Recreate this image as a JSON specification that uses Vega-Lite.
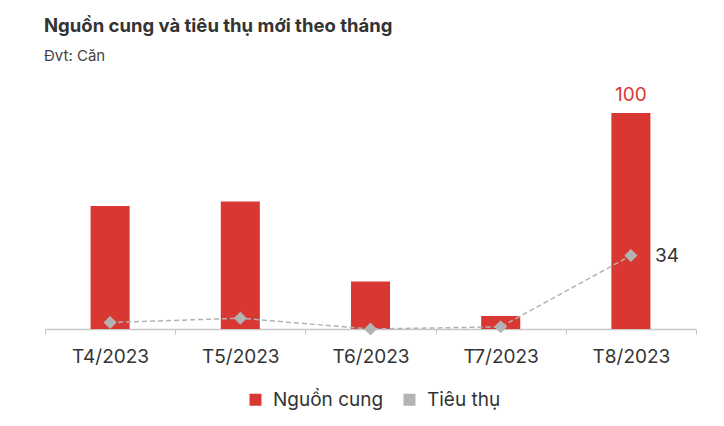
{
  "$schema": "https://vega.github.io/schema/vega-lite/v6.json",
  "autosize": {"type": "none"},
  "width": 651,
  "height": 216,
  "padding": {"left": 45, "top": 113, "right": 28, "bottom": 97},
  "background": "white",
  "config": {
    "view": {"stroke": null},
    "font": "Inter"
  },
  "title": {
    "text": "Nguồn cung và tiêu thụ mới theo tháng",
    "subtitle": "Đvt: Căn",
    "anchor": "start",
    "frame": "group",
    "dx": -1,
    "offset": 22,
    "fontSize": 18.5,
    "fontWeight": "bold",
    "color": "#333333",
    "subtitleFontSize": 15,
    "subtitleColor": "#444444",
    "subtitlePadding": 14
  },
  "data": {
    "values": [
      {"month": "T4/2023", "series": "Nguồn cung", "value": 57},
      {"month": "T5/2023", "series": "Nguồn cung", "value": 59},
      {"month": "T6/2023", "series": "Nguồn cung", "value": 22},
      {"month": "T7/2023", "series": "Nguồn cung", "value": 6},
      {"month": "T8/2023", "series": "Nguồn cung", "value": 100},
      {"month": "T4/2023", "series": "Tiêu thụ", "value": 3},
      {"month": "T5/2023", "series": "Tiêu thụ", "value": 5},
      {"month": "T6/2023", "series": "Tiêu thụ", "value": 0},
      {"month": "T7/2023", "series": "Tiêu thụ", "value": 1},
      {"month": "T8/2023", "series": "Tiêu thụ", "value": 34}
    ]
  },
  "encoding": {
    "x": {
      "field": "month",
      "type": "nominal",
      "sort": null,
      "scale": {"paddingInner": 0, "paddingOuter": 0},
      "axis": {
        "title": null,
        "labelAngle": 0,
        "labelFontSize": 19,
        "labelColor": "#333333",
        "labelPadding": 13,
        "tickBand": "extent",
        "tickSize": 5,
        "tickColor": "#c8c8c8",
        "domainColor": "#c8c8c8",
        "domainWidth": 1.5
      }
    },
    "y": {
      "field": "value",
      "type": "quantitative",
      "scale": {"domain": [0, 100], "nice": false},
      "axis": null
    },
    "color": {
      "field": "series",
      "type": "nominal",
      "scale": {"domain": ["Nguồn cung", "Tiêu thụ"], "range": ["#d93832", "#b3b3b3"]},
      "legend": {
        "title": null,
        "orient": "none",
        "legendX": 201,
        "legendY": 277,
        "direction": "horizontal",
        "symbolType": "square",
        "symbolSize": 110,
        "symbolOpacity": 1,
        "labelFontSize": 19,
        "labelColor": "#333333",
        "labelOffset": 8,
        "columnPadding": 16
      }
    }
  },
  "layer": [
    {
      "transform": [{"filter": "datum.series == 'Nguồn cung'"}],
      "mark": {"type": "bar", "width": {"band": 0.3}}
    },
    {
      "transform": [{"filter": "datum.series == 'Nguồn cung' && datum.month == 'T8/2023'"}],
      "mark": {"type": "text", "baseline": "bottom", "dy": -8, "fontSize": 19, "color": "#d93832"},
      "encoding": {"text": {"field": "value"}, "color": {"value": "#d93832"}}
    },
    {
      "transform": [{"filter": "datum.series == 'Tiêu thụ'"}],
      "mark": {"type": "line", "strokeDash": [5, 3], "strokeWidth": 1.5}
    },
    {
      "transform": [{"filter": "datum.series == 'Tiêu thụ'"}],
      "mark": {"type": "point", "shape": "diamond", "filled": true, "size": 170, "opacity": 1}
    },
    {
      "transform": [{"filter": "datum.series == 'Tiêu thụ' && datum.month == 'T8/2023'"}],
      "mark": {"type": "text", "align": "left", "baseline": "middle", "dx": 24, "fontSize": 19},
      "encoding": {"text": {"field": "value"}, "color": {"value": "#333333"}}
    }
  ]
}
